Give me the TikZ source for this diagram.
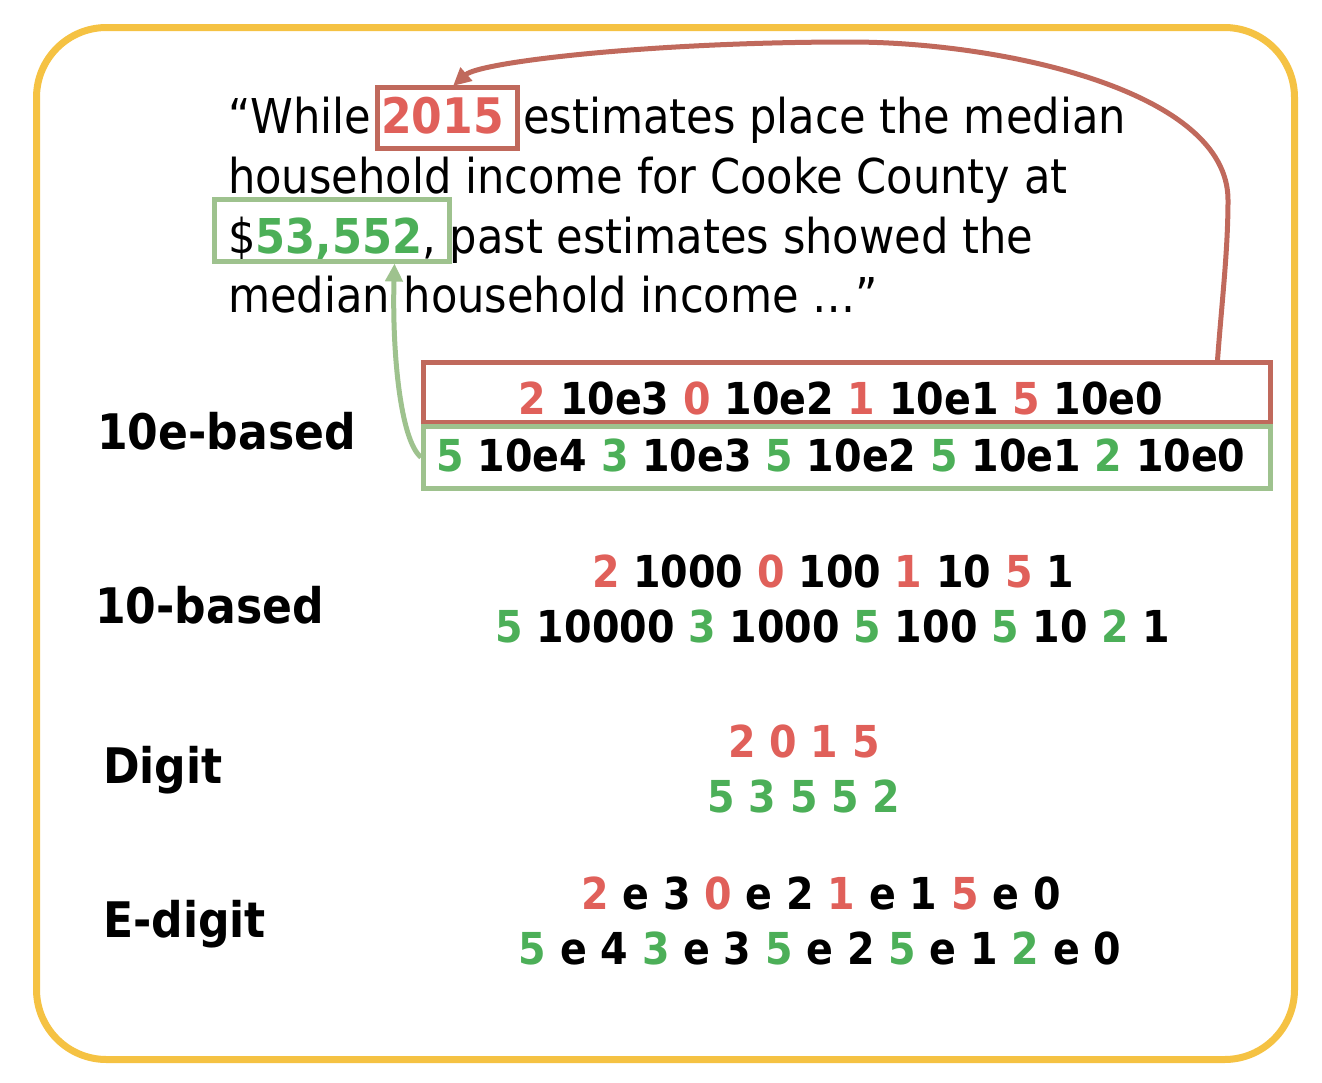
\documentclass[tikz,border=0pt]{standalone}
\usepackage{fontspec}
\setmainfont{DejaVu Sans Condensed}
\usetikzlibrary{arrows.meta}
\definecolor{frame}{HTML}{F5C243}
\definecolor{rtext}{HTML}{E0605A}
\definecolor{gtext}{HTML}{4CAF58}
\definecolor{rline}{HTML}{C0695C}
\definecolor{gline}{HTML}{9EC28E}
\newcommand{\R}[1]{\textcolor{rtext}{#1}}
\newcommand{\G}[1]{\textcolor{gtext}{#1}}
\begin{document}
\begin{tikzpicture}[x=1pt,y=-1pt,
  para/.style={anchor=base west, inner sep=0, font=\fontsize{48}{52}\selectfont},
  lab/.style={anchor=base west, inner sep=0, font=\fontsize{49}{52}\selectfont\bfseries},
  rowtext/.style={anchor=base, inner sep=0, font=\fontsize{44}{48}\selectfont\bfseries},
  hbox/.style={line width=4.5pt, anchor=north west, inner sep=0},
  conn/.style={line width=5pt, -{Triangle[length=18pt,width=17pt]}}]
\useasboundingbox (0,0) rectangle (1322,1082);
\node[draw=frame, line width=7pt, rounded corners=70pt, minimum width=1258, minimum height=1032, anchor=north west, inner sep=0] (frame) at (33,24) {};
% paragraph
\node[para] (l1a) at (228,133) {“While};
\node[para, text=rtext, font=\fontsize{49}{52}\selectfont\bfseries] (y2015) at (381,133) {2015};
\node[para] (l1b) at (523,133) {estimates place the median};
\node[hbox, draw=rline, minimum width=140, minimum height=61] (box2015) at (375,85) {};
\node[para] (l2) at (228,193) {household income for Cooke County at};
\node[para] (l3) at (228,253) {\$\textcolor{gtext}{\bfseries 53,552}, past estimates showed the};
\node[hbox, draw=gline, minimum width=235, minimum height=62] (box53) at (212,197) {};
\node[para] (l4) at (228,312) {median household income …”};
% labels
\node[lab] (lab1) at (97,449) {10e-based};
\node[lab] (lab2) at (95,623) {10-based};
\node[lab] (lab3) at (103,783) {Digit};
\node[lab] (lab4) at (103,937) {E-digit};
% 10e-based
\node[hbox, draw=rline, minimum width=847, minimum height=60] (rbox) at (421,360) {};
\node[hbox, draw=gline, minimum width=847, minimum height=62] (gbox) at (421,424) {};
\node[rowtext] (r1) at (841,414) {\R{2} 10e3 \R{0} 10e2 \R{1} 10e1 \R{5} 10e0};
\node[rowtext] (g1) at (841,471) {\G{5} 10e4 \G{3} 10e3 \G{5} 10e2 \G{5} 10e1 \G{2} 10e0};
% 10-based
\node[rowtext] (r2) at (833,587) {\R{2} 1000 \R{0} 100 \R{1} 10 \R{5} 1};
\node[rowtext] (g2) at (833,642) {\G{5} 10000 \G{3} 1000 \G{5} 100 \G{5} 10 \G{2} 1};
% digit
\node[rowtext] (r3) at (804,757) {\R{2 0 1 5}};
\node[rowtext] (g3) at (804,812) {\G{5 3 5 5 2}};
% e-digit
\node[rowtext] (r4) at (821,909) {\R{2} e 3 \R{0} e 2 \R{1} e 1 \R{5} e 0};
\node[rowtext] (g4) at (820,964) {\G{5} e 4 \G{3} e 3 \G{5} e 2 \G{5} e 1 \G{2} e 0};
% connectors
\draw[conn, rline] ([xshift=-55]rbox.north east) .. controls (1222,300) and (1228,250) .. (1228,200)
  .. controls (1228,90) and (1000,42) .. (850,42)
  .. controls (650,42) and (480,62) .. ([xshift=78,yshift=-1]box2015.north west);
\draw[conn, gline] (gbox.west) .. controls (400,440) and (392,350) .. ([xshift=-57]box53.south east);
\end{tikzpicture}
\end{document}
